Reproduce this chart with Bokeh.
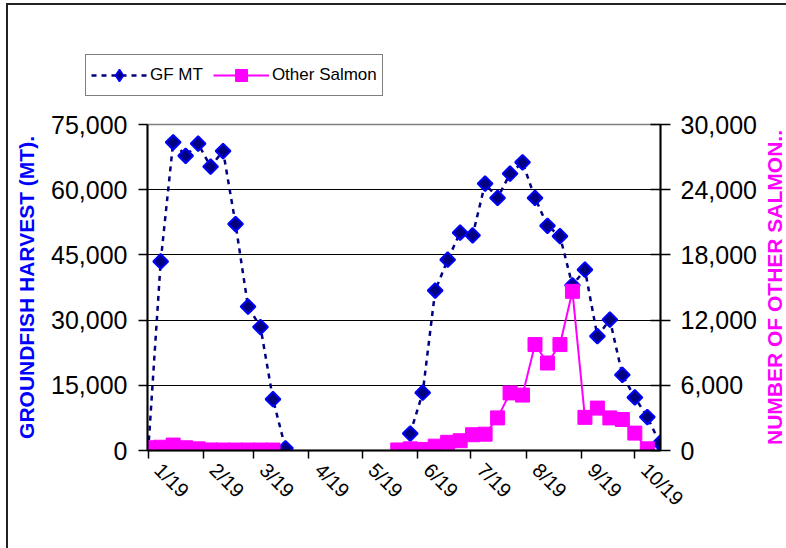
import numpy as np
import pandas as pd
from bokeh.plotting import figure
from bokeh.layouts import column, row
from bokeh.models import (Range1d, LinearAxis, FixedTicker, NumeralTickFormatter,
                          Legend, LegendItem, ColumnDataSource, Label)
from bokeh.embed import file_html
from bokeh.resources import INLINE

# ---- data (weekly, week-ending dates) ----
week_dates = pd.date_range("2002-01-19", periods=42, freq="7D")
nan = float("nan")
gf_mt = [0, 43500, 70900, 67800, 70600, 65300, 68900, 52100, 33100, 28400, 11800, 500,
         nan, nan, nan, nan, nan, nan, nan, nan, nan,
         3900, 13300, 36800, 43900, 50100, 49500, 61400, 58100, 63700, 66300, 58100,
         51700, 49300, 38000, 41600, 26300, 30100, 17400, 12200, 7700, 1700]
other_salmon = [250, 300, 500, 250, 150, 50, 40, 40, 40, 40, 40,
                nan, nan, nan, nan, nan, nan, nan, nan, nan,
                50, 150, 100, 400, 750, 900, 1450, 1500, 3000, 5300, 5100, 9750,
                8050, 9750, 14650, 3050, 3900, 3000, 2850, 1600, 150,
                nan]
series_names = ["GF MT", "Other Salmon"]
left_title = "GROUNDFISH HARVEST (MT)."
right_title = "NUMBER OF OTHER SALMON.."
tick_dates = ["2002-01-19", "2002-02-19", "2002-03-19", "2002-04-19", "2002-05-19",
              "2002-06-19", "2002-07-19", "2002-08-19", "2002-09-19", "2002-10-19"]
tick_labels = ["1/19", "2/19", "3/19", "4/19", "5/19", "6/19", "7/19", "8/19", "9/19", "10/19"]
left_ticks = [0, 15000, 30000, 45000, 60000, 75000]
right_ticks = [0, 6000, 12000, 18000, 24000, 30000]

x_days = np.array(week_dates.dayofyear, dtype=float)
tick_days = [int(d) for d in pd.to_datetime(tick_dates).dayofyear]
LABEL_SHIFT = 5.5  # days: rotated labels sit a little right of their tick
label_pos = [d + LABEL_SHIFT for d in tick_days]

src = ColumnDataSource(dict(x=x_days, gf=np.array(gf_mt, dtype=float),
                            sal=np.array(other_salmon, dtype=float)))

FONT = "Liberation Sans"
GF_LINE = dict(line_color="#000080", line_width=2.5, line_dash="5 5")
GF_MARK = dict(marker="square", angle=np.pi / 4, size=10.5, fill_color="#000080",
               line_color="#0000FF", line_width=2)
SAL_LINE = dict(line_color="#FF00FF", line_width=2)
SAL_MARK = dict(marker="square", size=14, fill_color="#FF00FF", line_color="#FF00FF",
                line_width=1)

W = 778
H_LEG = 100
H_MAIN = 443
W_RIGHT = 24
W_MAIN = W - W_RIGHT


def bare(fig):
    fig.outline_line_color = None
    fig.background_fill_color = "white"
    fig.border_fill_color = "white"
    fig.grid.visible = False
    fig.frame_align = False


# ---------------- legend strip ----------------
lg = figure(width=W, height=H_LEG, output_backend="svg", toolbar_location=None,
            x_axis_type=None, y_axis_type=None, x_range=Range1d(0, 1),
            y_range=Range1d(0, 1), min_border=0)
bare(lg)
# off-range dummy points: only their styles are used by the legend
l1 = lg.line(x=[-5, -6], y=[-5, -6], **GF_LINE)
m1 = lg.scatter(x=[-5], y=[-5], marker="diamond", size=16, fill_color="#000080",
                line_color="#0000FF", line_width=1.5)
l2 = lg.line(x=[-5, -6], y=[-5, -6], **SAL_LINE)
m2 = lg.scatter(x=[-5], y=[-5], **SAL_MARK)
legend = Legend(items=[LegendItem(label=series_names[0], renderers=[l1, m1]),
                       LegendItem(label=series_names[1], renderers=[l2, m2])],
                orientation="horizontal", location=(77, 9),
                label_text_font=FONT, label_text_font_size="17px",
                label_text_color="black", glyph_width=56, glyph_height=30,
                label_height=22, label_standoff=3, spacing=10, padding=5, margin=0,
                border_line_color="black", border_line_width=1.5,
                background_fill_color="white", background_fill_alpha=1)
lg.add_layout(legend, "center")

# ---------------- right title strip ----------------
rt = figure(width=W_RIGHT, height=H_MAIN, output_backend="svg", toolbar_location=None,
            x_axis_type=None, y_axis_type=None, x_range=Range1d(0, 1),
            y_range=Range1d(0, 1), min_border=0)
bare(rt)
rt.add_layout(Label(x=12, y=261, x_units="screen", y_units="screen", text=right_title,
                    angle=np.pi / 2, text_align="center", text_baseline="middle",
                    text_font=FONT, text_font_style="bold", text_font_size="21px",
                    text_color="#FF00FF"))

# ---------------- main chart ----------------
p = figure(width=W_MAIN, height=H_MAIN, output_backend="svg", toolbar_location=None,
           x_range=Range1d(x_days[0] - 0.4, x_days[-1] + 0.4),
           y_range=Range1d(0, left_ticks[-1]),
           min_border_left=139, min_border_right=W_MAIN - 652, min_border_top=19,
           min_border_bottom=98)
p.frame_align = False
p.background_fill_color = "white"
p.border_fill_color = "white"
p.outline_line_color = "#808080"
p.outline_line_width = 1.5

p.extra_y_ranges = {"sal": Range1d(0, right_ticks[-1])}

p.xgrid.visible = False
p.ygrid.ticker = FixedTicker(ticks=left_ticks[1:-1])
p.ygrid.grid_line_color = "black"
p.ygrid.grid_line_width = 1.2

ya = p.yaxis[0]
ya.ticker = FixedTicker(ticks=left_ticks)
ya.formatter = NumeralTickFormatter(format="0,0")
ya.axis_label = left_title
ya.axis_label_text_font = FONT
ya.axis_label_text_font_style = "bold"
ya.axis_label_text_font_size = "21px"
ya.axis_label_text_color = "#0000FF"
ya.axis_label_standoff = 10
ya.major_label_text_font = FONT
ya.major_label_text_font_size = "25px"
ya.major_label_text_color = "black"
ya.major_label_standoff = 11
ya.major_tick_out = 9
ya.major_tick_in = 0
ya.minor_tick_out = 0
ya.minor_tick_in = 0
ya.axis_line_width = 2
ya.major_tick_line_width = 1.5

ra = LinearAxis(y_range_name="sal", ticker=FixedTicker(ticks=right_ticks),
                formatter=NumeralTickFormatter(format="0,0"))
ra.major_label_text_font = FONT
ra.major_label_text_font_size = "25px"
ra.major_label_text_color = "black"
ra.major_label_standoff = 10
ra.major_tick_out = 10
ra.major_tick_in = 10
ra.minor_tick_out = 0
ra.minor_tick_in = 0
ra.axis_line_width = 2
ra.major_tick_line_width = 1.5
p.add_layout(ra, "right")

xa = p.xaxis[0]
xa.ticker = FixedTicker(ticks=tick_days)
xa.major_label_overrides = {d: "" for d in tick_days}
xa.major_label_standoff = 0
xa.major_tick_out = 8
xa.major_tick_in = 0
xa.minor_tick_out = 0
xa.minor_tick_in = 0
xa.axis_line_width = 2
xa.major_tick_line_width = 1.5

xl = LinearAxis(ticker=FixedTicker(ticks=label_pos))
xl.major_label_overrides = {d: lab for d, lab in zip(label_pos, tick_labels)}
xl.major_label_orientation = -np.pi / 4
xl.major_label_text_font = FONT
xl.major_label_text_font_size = "20px"
xl.major_label_text_color = "black"
xl.major_label_standoff = 8
xl.axis_line_color = None
xl.major_tick_line_color = None
xl.minor_tick_line_color = None
xl.major_tick_out = 0
xl.major_tick_in = 0
xl.minor_tick_out = 0
xl.minor_tick_in = 0
p.add_layout(xl, "below")

p.line("x", "gf", source=src, **GF_LINE)
p.scatter("x", "gf", source=src, **GF_MARK)
p.line("x", "sal", source=src, y_range_name="sal", **SAL_LINE)
p.scatter("x", "sal", source=src, y_range_name="sal", **SAL_MARK)

layout = column(lg, row(p, rt, spacing=0), spacing=0)
layout.styles = {"border-left": "2px solid #222", "border-top": "2px solid #222",
                 "margin-left": "6px", "margin-top": "3px"}

open("out.html", "w").write(file_html(layout, INLINE))
